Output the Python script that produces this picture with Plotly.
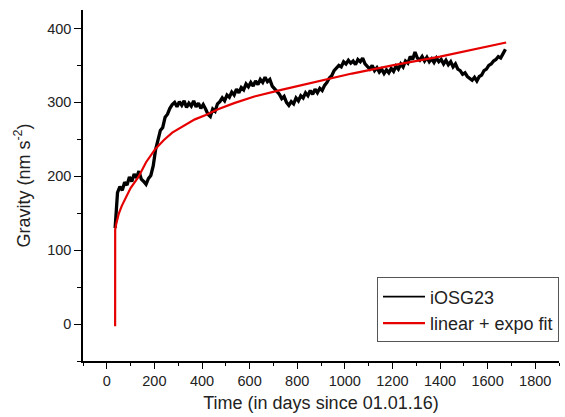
import plotly.graph_objects as go

# iOSG23 gravity residual, sampled every 10 days starting at day 35
start_day = 35
step_days = 10
gravity = [
    130, 178, 186, 181, 192, 188, 199, 193, 203, 198,
    207, 196, 193, 189, 197, 201, 214, 236, 249, 262,
    266, 280, 284, 292, 297, 300, 294, 301, 296, 302,
    293, 299, 295, 302, 294, 299, 292, 297, 291, 284,
    281, 291, 288, 298, 301, 306, 302, 310, 307, 314,
    310, 318, 313, 320, 317, 325, 321, 327, 322, 329,
    324, 331, 327, 334, 328, 331, 322, 318, 314, 311,
    305, 308, 300, 296, 301, 298, 306, 302, 309, 306,
    313, 309, 316, 311, 318, 313, 319, 316, 323, 327,
    333, 336, 343, 346, 350, 348, 355, 352, 357, 353,
    356, 351, 358, 355, 360, 352, 349, 345, 350, 343,
    347, 341, 345, 339, 344, 340, 346, 342, 349, 345,
    352, 348, 356, 353, 362, 358, 368, 360, 357, 362,
    356, 361, 355, 359, 354, 360, 355, 358, 352, 357,
    351, 355, 348, 352, 345, 343, 338, 340, 335, 333,
    330, 334, 329, 335, 337, 343, 345, 350, 352, 356,
    358, 362, 360, 366, 372,
]
days = [start_day + step_days * i for i in range(len(gravity))]

# linear + exponential fit curve
fit_days = [35, 35.2, 40, 50, 63, 80, 100, 133, 165, 204, 240, 275, 320,
            370, 416, 470, 535, 620, 733, 850, 1030, 1200, 1400, 1678]
fit_vals = [-3, 128, 136, 149, 160, 172, 184, 199, 219, 237, 249, 259, 268,
            277, 283, 291, 299, 308, 317, 326, 339, 350, 362, 381]

font = "Liberation Sans, Arial, sans-serif"

fig = go.Figure()
fig.add_trace(go.Scatter(x=days, y=gravity, mode="lines", name="iOSG23",
                         showlegend=False, legendgroup="obs",
                         line=dict(color="black", width=3.3)))
# thin legend sample for the observed series
fig.add_trace(go.Scatter(x=[None], y=[None], mode="lines", name="iOSG23",
                         legendgroup="obs", legendrank=1,
                         line=dict(color="black", width=1.6)))
fig.add_trace(go.Scatter(x=fit_days, y=fit_vals, mode="lines",
                         name="linear + expo fit", legendrank=2,
                         line=dict(color="rgb(230,0,0)", width=2.2)))

axis_common = dict(showline=True, linecolor="black", linewidth=1.5,
                   ticks="outside", tickcolor="black", tickwidth=1.3,
                   showgrid=False, zeroline=False, mirror=False,
                   tickfont=dict(family=font, size=14.5, color="#222"))

fig.update_layout(
    width=565, height=417,
    margin=dict(l=83, r=6, t=10, b=56),
    paper_bgcolor="white", plot_bgcolor="white",
    font=dict(family=font, color="#222"),
    xaxis=dict(range=[-100, 1900], dtick=200, tick0=0, ticklen=6,
               minor=dict(dtick=100, ticks="outside", ticklen=3,
                          tickcolor="black", tickwidth=1.2),
               title=dict(text="Time (in days since 01.01.16)",
                          font=dict(size=18), standoff=8),
               **axis_common),
    yaxis=dict(range=[-50, 425], dtick=100, tick0=0, ticklen=7,
               minor=dict(dtick=50, ticks="outside", ticklen=4,
                          tickcolor="black", tickwidth=1.2),
               title=dict(text="Gravity (nm s<sup>-2</sup>)",
                          font=dict(size=18), standoff=12),
               **axis_common),
    legend=dict(x=1.0, y=0.238, xanchor="right", yanchor="top",
                bordercolor="#555", borderwidth=1, bgcolor="white",
                font=dict(size=18, family=font, color="#222"),
                itemwidth=42, tracegroupgap=0),
    showlegend=True,
)

fig.write_html("out.html")
